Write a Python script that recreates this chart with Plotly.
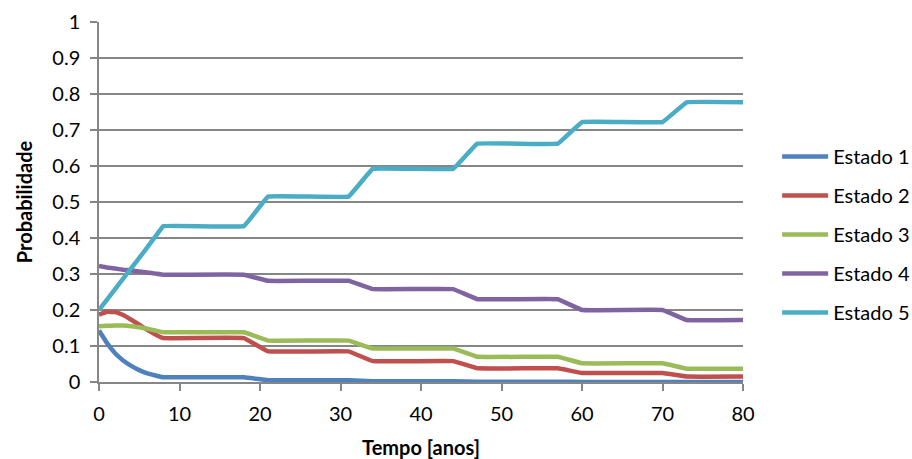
import plotly.graph_objects as go

anos = [0, 1, 2, 3, 4, 5, 6, 7, 8, 18, 21, 31, 34, 44, 47, 57, 60, 70, 73, 80]

estado1 = [0.143, 0.108, 0.080, 0.060, 0.045, 0.033, 0.024, 0.018, 0.013, 0.013, 0.005, 0.005,
           0.002, 0.002, 0.001, 0.001, 0.000, 0.000, 0.000, 0.000]
estado2 = [0.187, 0.195, 0.194, 0.186, 0.173, 0.159, 0.145, 0.132, 0.122, 0.122, 0.085, 0.085,
           0.058, 0.058, 0.038, 0.038, 0.025, 0.025, 0.015, 0.015]
estado3 = [0.155, 0.156, 0.157, 0.157, 0.155, 0.152, 0.148, 0.143, 0.138, 0.138, 0.115, 0.115,
           0.093, 0.093, 0.070, 0.070, 0.052, 0.052, 0.037, 0.037]
estado4 = [0.322, 0.318, 0.315, 0.312, 0.310, 0.307, 0.304, 0.301, 0.298, 0.298, 0.281, 0.281,
           0.258, 0.258, 0.230, 0.230, 0.200, 0.200, 0.172, 0.172]
estado5 = [0.200, 0.229, 0.258, 0.287, 0.316, 0.345, 0.374, 0.404, 0.433, 0.433, 0.515, 0.515,
           0.592, 0.592, 0.662, 0.662, 0.722, 0.722, 0.777, 0.777]

nomes = ["Estado 1", "Estado 2", "Estado 3", "Estado 4", "Estado 5"]
series = [estado1, estado2, estado3, estado4, estado5]
cores = ["#4F81BD", "#C0504D", "#9BBB59", "#8064A2", "#4BACC6"]

x_ticks = [0, 10, 20, 30, 40, 50, 60, 70, 80]
y_ticks = [0, 0.1, 0.2, 0.3, 0.4, 0.5, 0.6, 0.7, 0.8, 0.9, 1]
y_labels = ["0", "0.1", "0.2", "0.3", "0.4", "0.5", "0.6", "0.7", "0.8", "0.9", "1"]

FONT = "Lato, Carlito, 'Open Sans', sans-serif"

fig = go.Figure()
for i, (nome, ys, cor) in enumerate(zip(nomes, series, cores)):
    fig.add_trace(go.Scatter(
        x=anos, y=ys, name=nome, mode="lines",
        line=dict(color=cor, width=4.5, shape="spline", smoothing=0.15),
        legendgroup=str(i),
    ))

fig.update_layout(
    width=912, height=459,
    margin=dict(l=99, r=169, t=22, b=77, autoexpand=False),
    paper_bgcolor="white", plot_bgcolor="white",
    font=dict(family=FONT, size=20, color="black"),
    showlegend=True,
    legend=dict(x=1.053, y=0.41, xanchor="left", yanchor="middle",
                font=dict(size=20), tracegroupgap=10, bgcolor="rgba(0,0,0,0)",
                itemwidth=46),
    xaxis=dict(
        range=[0, 80], tickvals=x_ticks, ticktext=[str(v) for v in x_ticks],
        showgrid=False, zeroline=False, automargin=False,
        showline=True, linecolor="#868686", linewidth=1.5,
        ticks="outside", ticklen=7, tickcolor="#868686", tickwidth=1.5,
        tickfont=dict(size=20), ticklabelstandoff=6,
        title=dict(text="<b>Tempo [anos]</b>", font=dict(size=20), standoff=25),
    ),
    yaxis=dict(
        range=[0, 1], tickvals=y_ticks, ticktext=y_labels,
        showgrid=True, gridcolor="#868686", gridwidth=1.5, zeroline=False, automargin=False,
        showline=True, linecolor="#868686", linewidth=1.5,
        ticks="outside", ticklen=7, tickcolor="#868686", tickwidth=1.5,
        tickfont=dict(size=20), ticklabelstandoff=6,
        title=dict(text="<b>Probabilidade</b>", font=dict(size=20), standoff=14),
    ),
)

fig.write_html("out.html")
